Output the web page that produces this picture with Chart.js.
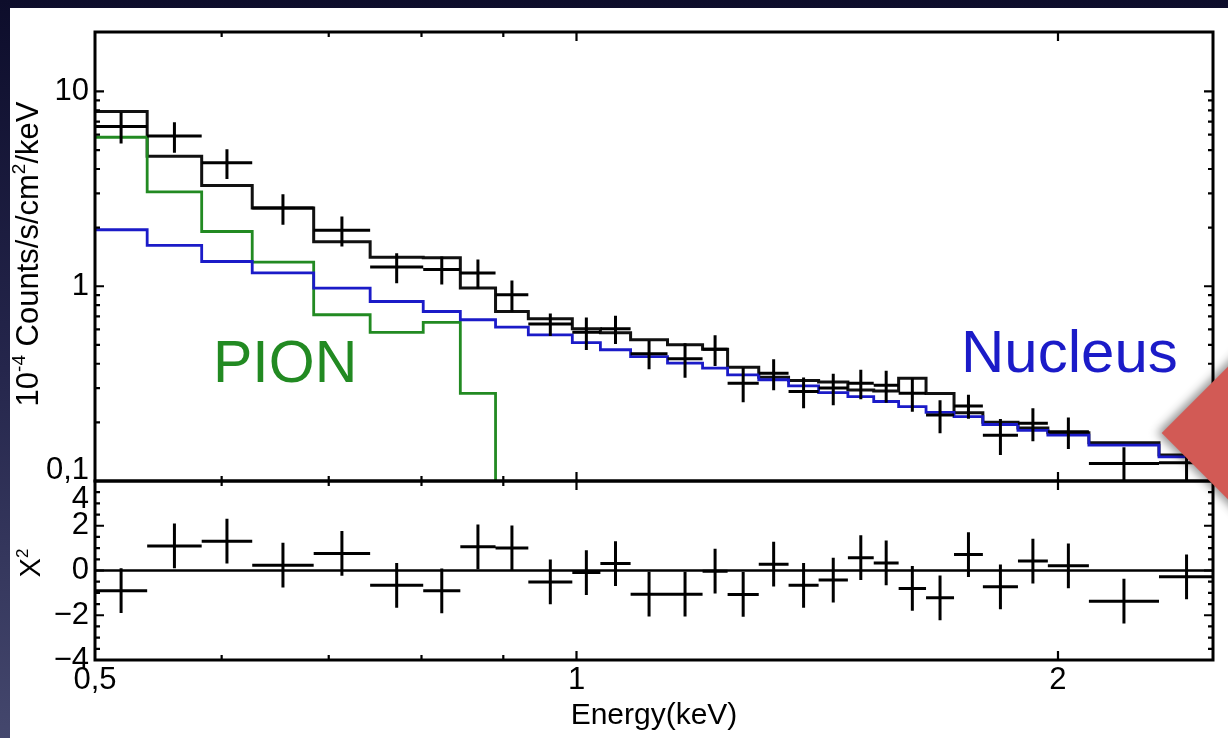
<!DOCTYPE html>
<html>
<head>
<meta charset="utf-8">
<script src="https://cdn.jsdelivr.net/npm/chart.js@4.4.1/dist/chart.umd.min.js"></script>
<style>
  html, body { margin: 0; padding: 0; width: 1228px; height: 738px; overflow: hidden; }
  body { background: linear-gradient(180deg, #0d0d2b 0%, #25264c 50%, #44476d 100%); position: relative; }
  #slide { position: absolute; left: 10px; top: 8px; right: 0; bottom: 0; background: #fff; }
  canvas { position: absolute; left: 0; }
  #top { top: 0; }
  #bot { top: 460px; }
  #arrow { position: absolute; left: 1203px; top: 333px; width: 200px; height: 200px;
           background: #d25a55; transform: rotate(45deg); box-shadow: 0 0 9px 3px rgba(0,0,0,0.45); }
</style>
</head>
<body>
<div id="slide"></div>
<canvas id="top" width="1228" height="500"></canvas>
<canvas id="bot" width="1228" height="278"></canvas>
<div id="arrow"></div>
<script>
const FONT = '"Liberation Sans", Arial, Helvetica, sans-serif';
Chart.defaults.font.family = FONT;
Chart.defaults.color = '#000';

// axis ranges
const X_MIN = 0.5, X_MAX = 2.5;
const Y_MIN = 0.1, Y_MAX = 20.2;
const R_MIN = -4, R_MAX = 4;

// energy bin edges (keV), 29 bins
const binEdges = [0.500, 0.539, 0.583, 0.627, 0.685, 0.743, 0.802, 0.846, 0.890, 0.933,
                  0.994, 1.035, 1.081, 1.140, 1.199, 1.243, 1.300, 1.357, 1.417, 1.478,
                  1.534, 1.590, 1.654, 1.722, 1.795, 1.888, 1.971, 2.091, 2.313, 2.504];

// observed spectrum (10^-4 counts/s/cm2/keV) and 1-sigma errors
const dataRate = [6.6, 5.9, 4.3, 2.52, 1.94, 1.255, 1.22, 1.17, 0.904, 0.64,
                  0.58, 0.605, 0.45, 0.424, 0.475, 0.318, 0.357, 0.288, 0.30, 0.318,
                  0.31, 0.282, 0.218, 0.243, 0.172, 0.198, 0.179, 0.123, 0.124];
const dataErr  = [1.2, 1.05, 0.75, 0.45, 0.34, 0.22, 0.2, 0.2, 0.165, 0.085,
                  0.11, 0.1, 0.075, 0.085, 0.085, 0.064, 0.065, 0.052, 0.055, 0.055,
                  0.058, 0.055, 0.042, 0.034, 0.036, 0.038, 0.033, 0.026, 0.035];

// models
const totalModel   = [7.89, 4.65, 3.29, 2.52, 1.69, 1.41, 1.40, 0.979, 0.742, 0.681,
                      0.605, 0.577, 0.531, 0.50, 0.475, 0.384, 0.341, 0.328, 0.322, 0.293,
                      0.29, 0.337, 0.281, 0.224, 0.20, 0.187, 0.177, 0.157, 0.136];
const pionModel    = [5.82, 3.05, 1.91, 1.33, 0.714, 0.579, 0.652, 0.282, 0, 0,
                      0, 0, 0, 0, 0, 0, 0, 0, 0, 0,
                      0, 0, 0, 0, 0, 0, 0, 0, 0];
const nucleusModel = [1.95, 1.62, 1.34, 1.17, 0.979, 0.835, 0.742, 0.673, 0.617, 0.563,
                      0.514, 0.472, 0.435, 0.403, 0.38, 0.351, 0.331, 0.308, 0.284, 0.271,
                      0.256, 0.241, 0.225, 0.214, 0.195, 0.182, 0.172, 0.153, 0.133];

// residuals (chi), each with +-1 error
const residual = [-0.90, 1.10, 1.31, 0.24, 0.76, -0.66, -0.91, 1.06, 1.01, -0.51,
                  -0.09, 0.31, -1.06, -1.06, -0.03, -1.07, 0.28, -0.66, -0.43, 0.57,
                  0.34, -0.80, -1.22, 0.71, -0.73, 0.42, 0.21, -1.37, -0.28];
const RES_ERR = 1;

// tick labels
const xTickValues = [0.5, 1, 2];
const xTickLabels = ['0,5', '1', '2'];
const yTopTickValues = [0.1, 1, 10];
const yTopTickLabels = ['0,1', '1', '10'];
const yBotTickValues = [-4, -2, 0, 2, 4];
const yBotTickLabels = ['\u22124', '\u22122', '0', '2', '4'];

const GREEN = '#228a22';
const BLUE = '#1b1bc8';

// step histogram points: value i holds from edge i to edge i+1
function steps(vals) {
  const pts = [];
  for (let i = 0; i < vals.length; i++) {
    if (!(vals[i] > 0)) { pts.push({x: binEdges[i], y: Y_MIN}); return pts; }
    pts.push({x: binEdges[i], y: vals[i]});
  }
  pts.push({x: binEdges[vals.length], y: vals[vals.length - 1]});
  return pts;
}

// minor tick positions
const xMinor = [0.6, 0.7, 0.8, 0.9];
const yTopMinor = [];
[0.1, 1].forEach(d => { for (let k = 2; k <= 9; k++) yTopMinor.push(k * d); });
const yBotMinor = [];
for (let v = R_MIN + 0.5; v < R_MAX; v += 0.5) if (v % 2 !== 0) yBotMinor.push(v);

function richText(ctx, parts, x, y, size) {
  ctx.save();
  ctx.translate(x, y);
  ctx.rotate(-Math.PI / 2);
  const sup = Math.round(size * 0.6);
  let w = 0;
  parts.forEach(p => { ctx.font = (p.sup ? sup : size) + 'px ' + FONT; w += ctx.measureText(p.t).width; });
  let cx = -w / 2;
  ctx.fillStyle = '#000';
  ctx.textBaseline = 'alphabetic';
  ctx.textAlign = 'left';
  parts.forEach(p => {
    ctx.font = (p.sup ? sup : size) + 'px ' + FONT;
    ctx.fillText(p.t, cx, p.sup ? -size * 0.42 : 0);
    cx += ctx.measureText(p.t).width;
  });
  ctx.restore();
}

function framePlugin(cfg) {
  return {
    id: 'frame',
    afterDatasetsDraw(chart) {
      const {ctx, chartArea: a, scales} = chart;
      const xs = scales.x, ys = scales.y;

      // data crosses
      ctx.save();
      ctx.beginPath();
      ctx.rect(a.left, a.top, a.width, a.height);
      ctx.clip();
      ctx.strokeStyle = '#000';
      ctx.lineWidth = 3;
      ctx.beginPath();
      cfg.vals.forEach((v, i) => {
        const e = Array.isArray(cfg.errs) ? cfg.errs[i] : cfg.errs;
        const x0 = xs.getPixelForValue(binEdges[i]);
        const x1 = xs.getPixelForValue(binEdges[i + 1]);
        const xc = xs.getPixelForValue(Math.sqrt(binEdges[i] * binEdges[i + 1]));
        const y = ys.getPixelForValue(v);
        const lo = v - e;
        ctx.moveTo(x0, y); ctx.lineTo(x1, y);
        ctx.moveTo(xc, ys.getPixelForValue(v + e));
        ctx.lineTo(xc, (cfg.log && lo <= 0) ? a.bottom : ys.getPixelForValue(lo));
      });
      ctx.stroke();
      ctx.restore();

      // inward ticks and frame
      ctx.save();
      ctx.strokeStyle = '#000';
      ctx.lineWidth = 2.2;
      ctx.beginPath();
      const xt = (v, len) => {
        const p = xs.getPixelForValue(v);
        ctx.moveTo(p, a.top); ctx.lineTo(p, a.top + len);
        ctx.moveTo(p, a.bottom); ctx.lineTo(p, a.bottom - len);
      };
      const yt = (v, len) => {
        const p = ys.getPixelForValue(v);
        ctx.moveTo(a.left, p); ctx.lineTo(a.left + len, p);
        ctx.moveTo(a.right, p); ctx.lineTo(a.right - len, p);
      };
      [1, 2].forEach(v => xt(v, 9));
      xMinor.forEach(v => xt(v, 5));
      cfg.yMajor.forEach(v => yt(v, 9));
      cfg.yMinor.forEach(v => yt(v, 5));
      ctx.stroke();
      ctx.lineWidth = 3;
      ctx.strokeRect(a.left, a.top, a.width, a.height);
      ctx.restore();

      // annotations
      (cfg.texts || []).forEach(t => {
        ctx.save();
        ctx.font = t.size + 'px ' + FONT;
        ctx.fillStyle = t.color;
        ctx.textBaseline = 'alphabetic';
        ctx.fillText(t.text, t.x, t.y);
        ctx.restore();
      });
      richText(ctx, cfg.title.parts, cfg.title.x, cfg.title.y, cfg.title.size);
    }
  };
}

// fixed axis box sizes, no extra padding for end labels
function fixWidth(s) { s.width = 95; s.paddingTop = 0; s.paddingBottom = 0; }
function fixHeight(s) { s.height = 78; s.paddingLeft = 0; s.paddingRight = 0; }

// top panel: spectrum
new Chart(document.getElementById('top'), {
  type: 'line',
  data: {
    datasets: [
      {data: steps(nucleusModel), borderColor: BLUE, borderWidth: 2.8, stepped: true, pointRadius: 0},
      {data: steps(pionModel), borderColor: GREEN, borderWidth: 2.8, stepped: true, pointRadius: 0},
      {data: steps(totalModel), borderColor: '#111', borderWidth: 3, stepped: true, pointRadius: 0}
    ]
  },
  options: {
    responsive: false,
    animation: false,
    events: [],
    layout: {padding: {left: 0, right: 15, top: 32, bottom: 19}},
    plugins: {legend: {display: false}, tooltip: {enabled: false}},
    scales: {
      x: {type: 'logarithmic', min: X_MIN, max: X_MAX, display: false},
      y: {
        type: 'logarithmic', min: Y_MIN, max: Y_MAX,
        afterFit: fixWidth,
        afterBuildTicks: s => { s.ticks = yTopTickValues.map(v => ({value: v})); },
        ticks: {
          font: {family: FONT, size: 31, lineHeight: 0.65}, color: '#000', padding: 6, autoSkip: false,
          callback: (v, i) => i === 0 ? [yTopTickLabels[i], ''] : yTopTickLabels[i]
        },
        grid: {display: false, drawTicks: false},
        border: {display: false}
      }
    }
  },
  plugins: [framePlugin({
    vals: dataRate, errs: dataErr, log: true,
    yMajor: yTopTickValues, yMinor: yTopMinor,
    texts: [
      {text: 'PION', x: 213, y: 382, size: 59, color: GREEN},
      {text: 'Nucleus', x: 961, y: 372, size: 60, color: BLUE}
    ],
    title: {parts: [{t: '10'}, {t: '-4', sup: true}, {t: ' Counts/s/cm'}, {t: '2', sup: true}, {t: '/keV'}],
            x: 38, y: 254, size: 31}
  })]
});

// bottom panel: residuals
new Chart(document.getElementById('bot'), {
  type: 'line',
  data: {
    datasets: [
      {data: [{x: X_MIN, y: 0}, {x: X_MAX, y: 0}], borderColor: '#000', borderWidth: 2.5, pointRadius: 0}
    ]
  },
  options: {
    responsive: false,
    animation: false,
    events: [],
    layout: {padding: {left: 0, right: 15, top: 21, bottom: 0}},
    plugins: {legend: {display: false}, tooltip: {enabled: false}},
    scales: {
      x: {
        type: 'logarithmic', min: X_MIN, max: X_MAX,
        afterFit: fixHeight,
        afterBuildTicks: s => { s.ticks = xTickValues.map(v => ({value: v})); },
        ticks: {font: {family: FONT, size: 31}, color: '#000', padding: 2, autoSkip: false, maxRotation: 0,
                callback: (v, i) => xTickLabels[i]},
        grid: {display: false, drawTicks: false},
        border: {display: false},
        title: {display: true, text: 'Energy(keV)', color: '#000',
                font: {family: FONT, size: 30}, padding: {top: 0, bottom: 4}}
      },
      y: {
        min: R_MIN, max: R_MAX,
        afterFit: fixWidth,
        afterBuildTicks: s => { s.ticks = yBotTickValues.map(v => ({value: v})); },
        ticks: {
          font: {family: FONT, size: 31, lineHeight: 1.2}, color: '#000', padding: 6, autoSkip: false,
          callback: (v, i) => i === yBotTickLabels.length - 1 ? ['', yBotTickLabels[i]] : yBotTickLabels[i]
        },
        grid: {display: false, drawTicks: false},
        border: {display: false}
      }
    }
  },
  plugins: [framePlugin({
    vals: residual, errs: RES_ERR, log: false,
    yMajor: yBotTickValues, yMinor: yBotMinor,
    title: {parts: [{t: '\u03A7'}, {t: '2', sup: true}], x: 40, y: 103, size: 29}
  })]
});
</script>
</body>
</html>
